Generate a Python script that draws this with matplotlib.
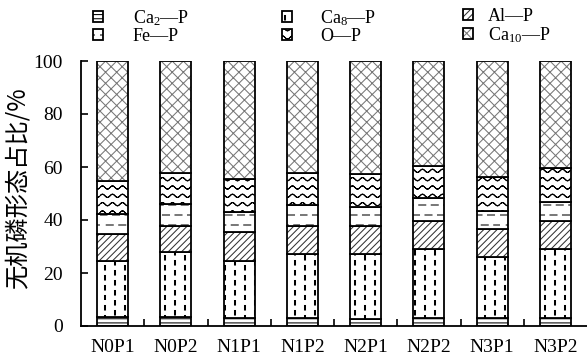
import warnings
import numpy as np
import matplotlib
matplotlib.use('Agg')
import matplotlib.pyplot as plt
import matplotlib.hatch as mhatch
from matplotlib.path import Path
from matplotlib.legend_handler import HandlerTuple

warnings.filterwarnings('ignore')

groups = ['N0P1', 'N0P2', 'N1P1', 'N1P2', 'N2P1', 'N2P2', 'N3P1', 'N3P2']
ca2_p = [3.5, 3.5, 3.1, 3.0, 2.5, 3.0, 3.0, 3.0]
ca8_p = [21.1, 24.3, 21.5, 24.2, 24.7, 25.9, 22.9, 25.9]
al_p = [10.1, 10.1, 10.7, 10.7, 10.7, 10.8, 10.6, 10.7]
fe_p = [7.4, 8.0, 7.6, 7.8, 6.9, 8.7, 6.9, 7.3]
o_p = [12.6, 12.0, 12.6, 11.9, 12.4, 12.0, 13.0, 12.6]
ca10_p = [45.3, 42.1, 44.5, 42.4, 42.8, 39.6, 43.6, 40.5]

labels = ['Ca$_{2}$—P', 'Ca$_{8}$—P', 'Al—P', 'Fe—P', 'O—P', 'Ca$_{10}$—P']


# extra hatch textures: '~' wavy rows, ':' short vertical dashes, '=' short horizontal dashes
# agg also fills hatch paths, so open curves are split into 2-point pieces
class TextureHatch(mhatch.HatchPatternBase):
    def __init__(self, hatch, density):
        self.parts = []
        if '~' in hatch:
            x = np.linspace(0, 1, 121)
            for i in range(12):
                y = (i + 0.5) / 12 + 0.016 * np.sin(2 * np.pi * 10 * x)
                pts = np.column_stack([x, y])
                for a, b in zip(pts[:-1], pts[1:]):
                    self.parts.append(([a, b], [Path.MOVETO, Path.LINETO]))
        if ':' in hatch:
            w = 0.005
            for j in range(10):
                for k in range(10):
                    x0 = (j + 0.5) / 10
                    y0 = (k + 0.5 * (j % 2)) / 10
                    box = [[x0 - w, y0], [x0 + w, y0], [x0 + w, y0 + 0.045],
                           [x0 - w, y0 + 0.045], [x0 - w, y0]]
                    self.parts.append((box, [Path.MOVETO] + [Path.LINETO] * 3 + [Path.CLOSEPOLY]))
        if '=' in hatch:
            for j in range(10):
                for k in range(8):
                    y0 = (j + 0.5) / 10
                    x0 = (k + 0.5 * (j % 2)) / 8
                    self.parts.append(([[x0, y0], [x0 + 0.07, y0]], [Path.MOVETO, Path.LINETO]))
        self.num_vertices = sum(len(p[0]) for p in self.parts)

    def set_vertices_and_codes(self, vertices, codes):
        i = 0
        for v, c in self.parts:
            n = len(v)
            vertices[i:i + n] = v
            codes[i:i + n] = c
            i += n


mhatch._hatch_types.append(TextureHatch)

plt.rcParams['font.family'] = ['Liberation Serif']
plt.rcParams['mathtext.fontset'] = 'custom'
plt.rcParams['mathtext.rm'] = 'Liberation Serif'
plt.rcParams['mathtext.default'] = 'regular'
plt.rcParams['hatch.linewidth'] = 0.75

fig = plt.figure(figsize=(5.87, 3.61), dpi=100)
ax = fig.add_axes([81 / 587, 35 / 361, 506 / 587, 265 / 361])

series = [ca2_p, ca8_p, al_p, fe_p, o_p, ca10_p]
hatches = ['----', ':', '/////', '=', '~', 'xxx']
hcolors = ['black', 'black', '#333333', 'black', 'black', '#777777']

x = np.arange(len(groups))
bottom = np.zeros(len(groups))
handles = []
for vals, h, hc in zip(series, hatches, hcolors):
    b1 = ax.bar(x, vals, 0.49, bottom=bottom, color='white', edgecolor=hc,
                hatch=h, linewidth=0)
    b2 = ax.bar(x, vals, 0.49, bottom=bottom, fill=False, edgecolor='black',
                linewidth=1.3)
    handles.append((b1, b2))
    bottom += np.array(vals)

ax.set_xlim(-0.5, len(groups) - 0.5)
ax.set_ylim(0, 100)
ax.set_yticks(range(0, 101, 20))
ax.set_xticks(x)
ax.set_xticklabels(groups)
ax.set_xticks(np.arange(0.5, len(groups) - 0.5, 1), minor=True)
ax.tick_params(axis='x', which='major', length=0, pad=9, labelsize=14)
ax.tick_params(axis='x', which='minor', direction='in', length=5, width=1.2)
ax.tick_params(axis='y', direction='in', length=5, width=1.2, pad=13, labelsize=14)
for s in ['top', 'right']:
    ax.spines[s].set_visible(False)
for s in ['left', 'bottom']:
    ax.spines[s].set_linewidth(1.3)

fig.text(18 / 587, 1 - 188 / 361, '无机磷形态占比/%', rotation=90, ha='center',
         va='center', fontsize=17.5, family=['Noto Sans CJK SC', 'DejaVu Sans'])

# one legend per column, the gaps differ in the original
columns = [([0, 3], 93, 1.65), ([1, 4], 282, 1.55), ([2, 5], 463, 0.85)]
for idx, left, pad in columns:
    fig.legend([handles[i] for i in idx], [labels[i] for i in idx],
               loc='upper left', bbox_to_anchor=(left / 587, 0.978), frameon=False,
               fontsize=13, handlelength=0.55, handleheight=0.55,
               handletextpad=pad, labelspacing=0.0, borderpad=0, borderaxespad=0,
               handler_map={tuple: HandlerTuple(ndivide=1, pad=0)})

fig.savefig('out.png', dpi=100)
